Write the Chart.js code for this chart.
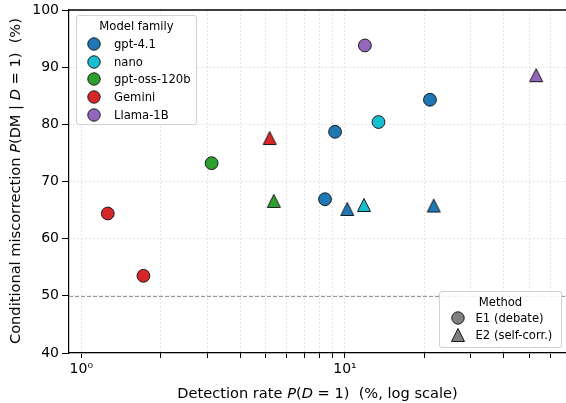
<!DOCTYPE html>
<html>
<head>
<meta charset="utf-8">
<script src="https://cdn.jsdelivr.net/npm/chart.js@4.4.0/dist/chart.umd.min.js"></script>
<style>
  html, body { margin: 0; padding: 0; background: #fff; overflow: hidden; }
  #wrap { position: relative; width: 566px; height: 403px; font-family: "DejaVu Sans", sans-serif; color: #000; }
  #chart { position: absolute; left: 0; top: 0; }
  .axtitle { position: absolute; font-size: 14.6px; white-space: pre; line-height: 16px; }
  #xtitle { left: 0; width: 635px; top: 385px; text-align: center; }
  #ytitle { left: 15px; top: 181px; transform: translate(-50%, -50%) rotate(-90deg); }
  .legend { position: absolute; border: 1px solid #d0d0d0; border-radius: 3px; background: rgba(255,255,255,0.85); font-size: 11.6px; box-sizing: border-box; }
  .legend .ttl { position: absolute; left: 0; right: 0; text-align: center; line-height: 14px; }
  .legend .row { position: absolute; left: 0; right: 0; line-height: 14px; }
  .legend svg { position: absolute; }
</style>
</head>
<body>
<div id="wrap">
  <canvas id="chart" width="566" height="403"></canvas>
  <div class="axtitle" id="xtitle">Detection rate <i>P</i>(<i>D</i> = 1)  (%, log scale)</div>
  <div class="axtitle" id="ytitle">Conditional miscorrection <i>P</i>(DM | <i>D</i> = 1)  (%)</div>
  <div class="legend" id="legFamily" style="left:76px; top:15px; width:121px; height:110px;"></div>
  <div class="legend" id="legMethod" style="left:439px; top:291px; width:123px; height:57px;"></div>
</div>
<script>
// model families and their colours
const families = ['gpt-4.1', 'nano', 'gpt-oss-120b', 'Gemini', 'Llama-1B'];
const familyColors = ['#1f77b4', '#17becf', '#2ca02c', '#d62728', '#9467bd'];

// E1 (debate)
const e1Family    = ['gpt-4.1', 'gpt-4.1', 'gpt-4.1', 'nano', 'gpt-oss-120b', 'Gemini', 'Gemini', 'Llama-1B'];
const e1Detection = [9.17, 21.0, 8.40, 13.4, 3.12, 1.26, 1.72, 11.9];
const e1Miscorr   = [78.7, 84.3, 66.9, 80.4, 73.2, 64.4, 53.5, 93.8];

// E2 (self-corr.)
const e2Family    = ['gpt-4.1', 'gpt-4.1', 'nano', 'gpt-oss-120b', 'Gemini', 'Llama-1B'];
const e2Detection = [10.2, 21.7, 11.8, 5.37, 5.18, 53.1];
const e2Miscorr   = [65.2, 65.8, 65.9, 66.6, 77.6, 88.6];

const methods = ['E1 (debate)', 'E2 (self-corr.)'];

// axes
const xMajorTicks = [1, 10];
const xTickLabels = ['10\u2070', '10\u00b9'];
const yTicks = [40, 50, 60, 70, 80, 90, 100];
const refLineY = 50;

const colorOf = f => familyColors[families.indexOf(f)];
const EDGE = '#1a1a1a';

// matplotlib-like '^' marker, centred on its bounding box
function triangleImg(color) {
  const c = document.createElement('canvas');
  c.width = 16; c.height = 16;
  const g = c.getContext('2d');
  g.beginPath();
  g.moveTo(8, 1.5); g.lineTo(14.5, 14.5); g.lineTo(1.5, 14.5); g.closePath();
  g.fillStyle = color; g.fill();
  g.lineWidth = 1; g.strokeStyle = EDGE; g.stroke();
  return c;
}

// minor log ticks for the grid
const xAllTicks = [];
for (let d = 1; d <= 10; d *= 10) {
  for (let k = 1; k <= 9; k++) {
    const v = k * d;
    if (v <= 60) xAllTicks.push(v);
  }
}

const refLine = {
  id: 'refLine',
  beforeDatasetsDraw(chart) {
    const { ctx, chartArea, scales } = chart;
    const y = Math.round(scales.y.getPixelForValue(refLineY)) + 0.5;
    ctx.save();
    ctx.strokeStyle = '#999';
    ctx.lineWidth = 1;
    ctx.setLineDash([4, 2]);
    ctx.beginPath();
    ctx.moveTo(chartArea.left, y);
    ctx.lineTo(chartArea.right, y);
    ctx.stroke();
    ctx.restore();
  },
  afterDraw(chart) {
    // top spine
    const { ctx, chartArea } = chart;
    ctx.save();
    ctx.strokeStyle = '#000';
    ctx.lineWidth = 1.5;
    ctx.beginPath();
    ctx.moveTo(chartArea.left, chartArea.top);
    ctx.lineTo(chartArea.right, chartArea.top);
    ctx.stroke();
    ctx.restore();
  }
};

new Chart(document.getElementById('chart').getContext('2d'), {
  type: 'scatter',
  data: {
    datasets: [
      {
        label: methods[0],
        data: e1Detection.map((x, i) => ({ x: x, y: e1Miscorr[i] })),
        pointStyle: 'circle',
        pointRadius: 6.4,
        backgroundColor: e1Family.map(colorOf),
        borderColor: EDGE,
        borderWidth: 1
      },
      {
        label: methods[1],
        data: e2Detection.map((x, i) => ({ x: x, y: e2Miscorr[i] })),
        pointStyle: e2Family.map(f => triangleImg(colorOf(f))),
        pointRadius: 7,
        backgroundColor: e2Family.map(colorOf),
        borderColor: EDGE,
        borderWidth: 1
      }
    ]
  },
  options: {
    responsive: false,
    animation: false,
    devicePixelRatio: 1,
    events: [],
    layout: { autoPadding: false, padding: { top: 10, left: 0, right: 0, bottom: 0 } },
    plugins: { legend: { display: false }, tooltip: { enabled: false } },
    scales: {
      x: {
        type: 'logarithmic',
        bounds: 'data',
        min: 0.898,
        max: 68.9,
        afterBuildTicks: s => { s.ticks = xAllTicks.map(v => ({ value: v })); },
        afterFit: s => { s.height = 50; s.paddingRight = 0; },
        grid: { color: '#dedede', lineWidth: 0.8, tickLength: 5, tickColor: '#000', tickWidth: 1 },
        border: { color: '#000', width: 1.2, dash: [2, 2] },
        ticks: {
          autoSkip: false, maxRotation: 0, padding: 3,
          color: '#000', font: { family: 'DejaVu Sans', size: 14 },
          callback: v => { const i = xMajorTicks.indexOf(v); return i >= 0 ? xTickLabels[i] : ''; }
        }
      },
      y: {
        min: yTicks[0],
        max: yTicks[yTicks.length - 1],
        afterBuildTicks: s => { s.ticks = yTicks.map(v => ({ value: v })); },
        afterFit: s => { s.width = 69; s.paddingTop = 0; s.paddingBottom = 0; },
        grid: { color: '#dedede', lineWidth: 0.8, tickLength: 7, tickColor: '#000', tickWidth: 1 },
        border: { color: '#000', width: 1.2, dash: [2, 2] },
        ticks: { padding: 3, color: '#000', font: { family: 'DejaVu Sans', size: 14 } }
      }
    }
  },
  plugins: [refLine]
});

// legends
function markerSvg(shape, color, cx, cy) {
  const ns = 'http://www.w3.org/2000/svg';
  const svg = document.createElementNS(ns, 'svg');
  svg.setAttribute('width', 16); svg.setAttribute('height', 16);
  svg.style.left = (cx - 8) + 'px'; svg.style.top = (cy - 8) + 'px';
  let el;
  if (shape === 'circle') {
    el = document.createElementNS(ns, 'circle');
    el.setAttribute('cx', 8); el.setAttribute('cy', 8); el.setAttribute('r', 6.2);
  } else {
    el = document.createElementNS(ns, 'polygon');
    el.setAttribute('points', '8,1.5 14.5,14.5 1.5,14.5');
  }
  el.setAttribute('fill', color);
  el.setAttribute('stroke', EDGE);
  el.setAttribute('stroke-width', 1);
  svg.appendChild(el);
  return svg;
}

function buildLegend(id, title, titleY, items, rowY0, rowStep, markerX, textX) {
  const box = document.getElementById(id);
  const t = document.createElement('div');
  t.className = 'ttl'; t.textContent = title; t.style.top = (titleY - 7) + 'px';
  box.appendChild(t);
  items.forEach((it, i) => {
    const cy = rowY0 + i * rowStep;
    box.appendChild(markerSvg(it.shape, it.color, markerX, cy));
    const r = document.createElement('div');
    r.className = 'row'; r.textContent = it.label;
    r.style.top = (cy - 7) + 'px'; r.style.left = textX + 'px';
    box.appendChild(r);
  });
}

buildLegend('legFamily', 'Model family', 10,
  families.map((f, i) => ({ label: f, shape: 'circle', color: familyColors[i] })),
  28, 17.7, 17, 37);
buildLegend('legMethod', 'Method', 9.5,
  [{ label: methods[0], shape: 'circle', color: '#808080' },
   { label: methods[1], shape: 'triangle', color: '#808080' }],
  26, 17, 17.5, 35.5);
</script>
</body>
</html>
